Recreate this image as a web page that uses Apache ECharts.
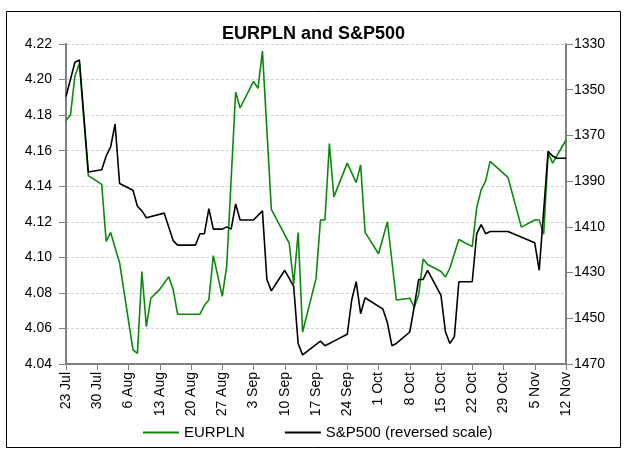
<!DOCTYPE html>
<html>
<head>
  <meta charset="UTF-8">
  <title>EURPLN and S&amp;P500</title>
  <script src="https://cdn.jsdelivr.net/npm/echarts@6/dist/echarts.min.js"></script>
  <style>
    html, body { margin: 0; padding: 0; background: #fff; }
    #main { width: 627px; height: 451px; }
  </style>
</head>
<body>
<div id="main"></div>
<script>
  // weekly tick labels, one per 7 days starting 23 Jul
  var xTickLabels = ['23 Jul', '30 Jul', '6 Aug', '13 Aug', '20 Aug', '27 Aug', '3 Sep', '10 Sep',
    '17 Sep', '24 Sep', '1 Oct', '8 Oct', '15 Oct', '22 Oct', '29 Oct', '5 Nov', '12 Nov'];

  // EURPLN: days since 23 Jul, value (left axis)
  var eurplnDays = [0, 1, 2, 3, 5, 8, 9, 10, 12, 15, 16, 17, 18, 19, 21, 23, 24, 25, 30, 31, 32, 33,
    35, 36, 38, 39, 42, 43, 44, 46, 50, 51, 52, 53, 56, 57, 58, 59, 60, 63, 65, 66, 67, 70, 72, 74,
    77, 78, 79, 80, 81, 84, 85, 86, 88, 91, 92, 93, 94, 95, 99, 102, 105, 106, 107, 108, 109, 112];
  var eurplnValues = [4.177, 4.180, 4.202, 4.209, 4.146, 4.141, 4.109, 4.114, 4.097, 4.048, 4.046, 4.092,
    4.061, 4.077, 4.082, 4.089, 4.082, 4.068, 4.068, 4.073, 4.076, 4.101, 4.078, 4.095, 4.193, 4.184,
    4.199, 4.195, 4.216, 4.127, 4.108, 4.085, 4.114, 4.058, 4.088, 4.121, 4.121, 4.164, 4.134, 4.153,
    4.142, 4.152, 4.114, 4.102, 4.120, 4.076, 4.077, 4.072, 4.079, 4.099, 4.096, 4.092, 4.089, 4.094,
    4.110, 4.106, 4.128, 4.138, 4.143, 4.154, 4.145, 4.117, 4.121, 4.121, 4.113, 4.159, 4.153, 4.166];

  // S&P500: days since 23 Jul, value (right axis, reversed)
  var spxDays = [0, 2, 3, 5, 8, 9, 10, 11, 12, 15, 16, 17, 18, 22, 24, 25, 29, 30, 31, 32, 33, 35, 36,
    37, 38, 39, 42, 44, 45, 46, 49, 51, 52, 53, 57, 58, 59, 60, 63, 64, 65, 66, 67, 71, 72, 73, 74,
    77, 78, 79, 80, 81, 84, 85, 86, 87, 88, 91, 92, 93, 94, 95, 99, 105, 106, 108, 109, 110, 112];
  var spxValues = [1353, 1338, 1337, 1386, 1385, 1379, 1375, 1365, 1391, 1394, 1401, 1403, 1406, 1404,
    1416, 1418, 1418, 1413, 1413, 1402, 1411, 1411, 1410, 1411, 1400, 1407, 1407, 1403, 1433, 1438,
    1429, 1436, 1461, 1466, 1460, 1462, 1461, 1460, 1457, 1442, 1434, 1448, 1441, 1446, 1452, 1462,
    1461, 1456, 1445, 1433, 1433, 1429, 1440, 1456, 1461, 1458, 1434, 1434, 1413, 1409, 1413, 1412,
    1412, 1417, 1429, 1377, 1379, 1380, 1380];

  function pairs(days, vals) {
    var out = [];
    for (var i = 0; i < days.length; i++) out.push([days[i], vals[i]]);
    return out;
  }

  var font = 'Liberation Sans, Arial, sans-serif';
  var axisGray = '#808080';

  var myChart = echarts.init(document.getElementById('main'));
  var option = {
    backgroundColor: '#fff',
    animation: false,
    title: {
      text: 'EURPLN and S&P500',
      left: 'center',
      top: 20,
      textStyle: { fontFamily: font, fontSize: 18, fontWeight: 'bold', color: '#000' }
    },
    graphic: [{
      type: 'rect',
      shape: { x: 6.5, y: 11.5, width: 614, height: 436 },
      style: { fill: 'none', stroke: '#000', lineWidth: 1 },
      silent: true
    }],
    legend: {
      bottom: 6,
      left: 138,
      icon: 'rect',
      itemWidth: 36,
      itemHeight: 2,
      itemGap: 40,
      textStyle: { fontFamily: font, fontSize: 15, color: '#000' },
      data: ['EURPLN', 'S&P500 (reversed scale)']
    },
    grid: { left: 66, right: 61, top: 44, bottom: 87 },
    xAxis: {
      type: 'value',
      min: 0,
      max: 112,
      interval: 7,
      axisLine: { lineStyle: { color: axisGray, width: 2 } },
      axisTick: { show: true, length: 6, lineStyle: { color: axisGray, width: 1 } },
      splitLine: { show: false },
      axisLabel: {
        rotate: 90,
        margin: 8,
        fontFamily: font,
        fontSize: 14,
        color: '#000',
        formatter: function (v) { return xTickLabels[Math.round(v / 7)] || ''; }
      }
    },
    yAxis: [{
      type: 'value',
      position: 'left',
      min: 4.04,
      max: 4.22,
      interval: 0.02,
      axisLine: { show: true, lineStyle: { color: axisGray, width: 2 } },
      axisTick: { show: true, length: 7, lineStyle: { color: axisGray } },
      splitLine: { show: true, lineStyle: { color: '#d0d0d0', type: [3, 2], width: 1 } },
      axisLabel: {
        margin: 14,
        fontFamily: font,
        fontSize: 14,
        color: '#000',
        formatter: function (v) { return v.toFixed(2); }
      }
    }, {
      type: 'value',
      position: 'right',
      inverse: true,
      min: 1330,
      max: 1470,
      interval: 20,
      axisLine: { show: true, lineStyle: { color: axisGray, width: 2 } },
      axisTick: { show: true, length: 7, lineStyle: { color: axisGray } },
      splitLine: { show: false },
      axisLabel: {
        margin: 8,
        fontFamily: font,
        fontSize: 14,
        color: '#000',
        formatter: function (v) { return String(v); }
      }
    }],
    series: [{
      name: 'EURPLN',
      type: 'line',
      yAxisIndex: 0,
      showSymbol: false,
      color: '#0a8a0a',
      lineStyle: { width: 1.6, color: '#0a8a0a' },
      data: pairs(eurplnDays, eurplnValues)
    }, {
      name: 'S&P500 (reversed scale)',
      type: 'line',
      yAxisIndex: 1,
      showSymbol: false,
      color: '#000',
      lineStyle: { width: 1.6, color: '#000' },
      data: pairs(spxDays, spxValues)
    }]
  };
  myChart.setOption(option);
</script>
</body>
</html>
